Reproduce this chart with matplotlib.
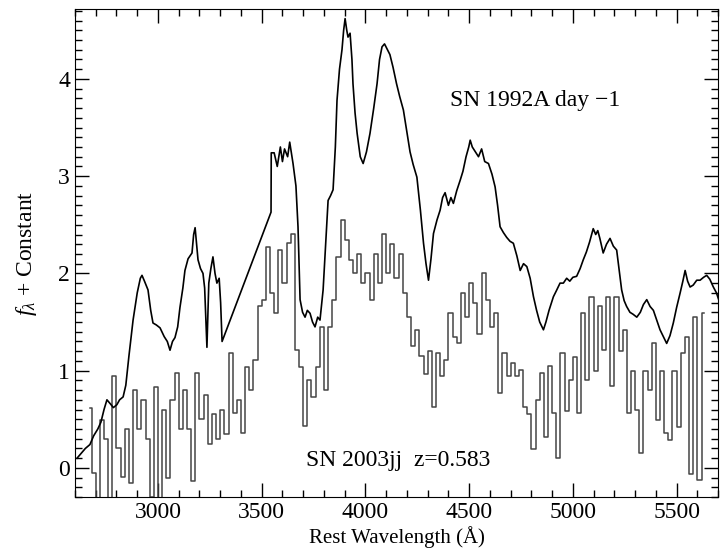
import numpy as np
import matplotlib
matplotlib.use("Agg")
import matplotlib.pyplot as plt
from matplotlib.ticker import MultipleLocator

plt.rcParams['font.family'] = ['Liberation Serif', 'DejaVu Serif']
plt.rcParams['mathtext.fontset'] = 'custom'
plt.rcParams['mathtext.rm'] = 'Liberation Serif'
plt.rcParams['mathtext.it'] = 'Liberation Serif:italic'

# SN 1992A day -1 (template spectrum)
wave_92a = [2610, 2630, 2650, 2672, 2690, 2710, 2725, 2740, 2754, 2770, 2785, 2802,
            2815, 2832, 2845, 2860, 2880, 2900, 2915, 2923, 2935, 2952, 2965, 2976,
            2992, 3010, 3030, 3045, 3058, 3070, 3082, 3095, 3106, 3120, 3130, 3145,
            3164, 3172, 3179, 3186, 3193, 3205, 3217, 3225, 3236, 3245, 3255, 3265,
            3275, 3284, 3295, 3302, 3309,
            3545, 3546, 3560, 3575, 3590, 3600, 3610, 3625, 3635, 3651, 3665, 3675,
            3685, 3697, 3709, 3720, 3733, 3745, 3757, 3770, 3781, 3796, 3808, 3820,
            3832, 3844, 3855, 3863, 3875, 3887, 3895, 3902, 3910, 3916, 3926, 3935,
            3940, 3950, 3960, 3975, 3989, 4005, 4022, 4040, 4056, 4068, 4080, 4092,
            4104, 4118, 4133, 4150, 4165, 4183, 4200, 4215, 4230, 4248, 4265, 4280,
            4292, 4304, 4316, 4328, 4345, 4360, 4372, 4384, 4400, 4412, 4424, 4440,
            4457, 4470, 4485, 4498, 4505, 4515, 4530, 4545, 4560, 4575, 4593, 4610,
            4625, 4637, 4649, 4665, 4681, 4697, 4713, 4730, 4746, 4762, 4778, 4794,
            4810, 4825, 4840, 4858, 4870, 4885, 4906, 4920, 4938, 4954, 4970, 4985,
            5000, 5018, 5035, 5050, 5065, 5080, 5098, 5110, 5120, 5130, 5146, 5162,
            5179, 5195, 5211, 5222, 5235, 5247, 5259, 5275, 5290, 5308, 5325, 5340,
            5356, 5372, 5388, 5404, 5420, 5436, 5452, 5468, 5484, 5500, 5517, 5530,
            5541, 5553, 5565, 5580, 5597, 5613, 5630, 5645, 5660, 5677, 5692, 5709]
flux_92a = [0.10, 0.15, 0.20, 0.24, 0.33, 0.40, 0.47, 0.60, 0.70, 0.66, 0.62, 0.65,
            0.70, 0.73, 0.85, 1.15, 1.52, 1.80, 1.95, 1.98, 1.92, 1.83, 1.62, 1.49,
            1.47, 1.44, 1.35, 1.30, 1.21, 1.30, 1.34, 1.45, 1.65, 1.85, 2.03, 2.15,
            2.21, 2.40, 2.47, 2.30, 2.14, 2.05, 2.00, 1.85, 1.24, 1.90, 2.05, 2.17,
            2.00, 1.90, 1.95, 1.70, 1.30,
            2.63, 3.24, 3.24, 3.10, 3.30, 3.15, 3.28, 3.20, 3.35, 3.13, 2.90, 2.48,
            1.73, 1.60, 1.55, 1.62, 1.59, 1.50, 1.45, 1.55, 1.52, 1.83, 2.30, 2.75,
            2.80, 2.86, 3.30, 3.78, 4.10, 4.30, 4.50, 4.62, 4.50, 4.43, 4.47, 4.20,
            3.95, 3.65, 3.44, 3.20, 3.13, 3.25, 3.44, 3.70, 3.95, 4.20, 4.33, 4.36,
            4.31, 4.25, 4.12, 3.95, 3.82, 3.68, 3.45, 3.25, 3.12, 2.99, 2.65, 2.31,
            2.10, 1.93, 2.15, 2.41, 2.55, 2.65, 2.78, 2.83, 2.70, 2.78, 2.72, 2.85,
            2.96, 3.05, 3.20, 3.30, 3.37, 3.30, 3.25, 3.20, 3.28, 3.15, 3.13, 3.02,
            2.89, 2.70, 2.48, 2.42, 2.37, 2.33, 2.31, 2.18, 2.03, 2.10, 2.07, 1.95,
            1.76, 1.62, 1.50, 1.42, 1.50, 1.62, 1.76, 1.82, 1.90, 1.90, 1.95, 1.92,
            1.96, 1.97, 2.05, 2.14, 2.22, 2.32, 2.46, 2.40, 2.44, 2.36, 2.21, 2.30,
            2.36, 2.28, 2.24, 2.05, 1.83, 1.72, 1.66, 1.60, 1.58, 1.55, 1.60, 1.68,
            1.73, 1.66, 1.62, 1.52, 1.42, 1.35, 1.28, 1.36, 1.49, 1.65, 1.80, 1.92,
            2.03, 1.92, 1.86, 1.88, 1.93, 1.93, 1.96, 1.98, 1.94, 1.86, 1.80, 1.69]

# SN 2003jj z=0.583, binned rest-frame spectrum (20 A bins)
wave_03jj = np.arange(2670, 5650, 20)
flux_03jj = [0.62, -0.05, -0.40, 0.49, 0.30, -0.40, 0.94, 0.20, -0.09, 0.40,
             -0.16, 0.80, 0.40, 0.70, 0.30, -0.30, 0.83, -0.40, 0.60, -0.10,
             0.70, 0.98, 0.40, 0.80, 0.40, -0.13, 0.98, 0.50, 0.75, 0.25,
             0.55, 0.30, 0.60, 0.35, 1.18, 0.56, 0.70, 0.36, 1.04, 0.80,
             1.11, 1.66, 1.73, 2.27, 1.80, 1.59, 2.24, 1.90, 2.31, 2.41,
             1.21, 1.04, 0.43, 0.90, 0.73, 1.04, 1.45, 0.80, 1.45, 1.73,
             2.17, 2.55, 2.34, 2.14, 2.00, 2.20, 1.90, 2.00, 1.73, 2.20,
             1.90, 2.41, 2.00, 2.30, 1.95, 2.20, 1.80, 1.55, 1.25, 1.42,
             1.15, 0.97, 1.20, 0.63, 1.18, 0.95, 1.11, 1.59, 1.35, 1.28,
             1.80, 1.55, 1.90, 1.70, 1.38, 2.00, 1.73, 1.45, 1.59, 0.77,
             1.18, 0.95, 1.08, 0.94, 1.01, 0.63, 0.55, 0.19, 0.70, 0.98,
             0.32, 1.05, 0.56, 0.10, 1.18, 0.59, 0.90, 1.14, 0.56, 1.59,
             0.90, 1.76, 1.00, 1.66, 1.21, 1.76, 0.84, 1.76, 1.20, 1.42,
             0.56, 1.00, 0.60, 0.15, 1.00, 0.80, 1.28, 0.49, 1.00, 0.36,
             0.29, 1.00, 0.42, 1.18, 1.35, -0.06, 1.55, -0.12, 1.59]

fig = plt.figure(figsize=(7.21, 5.56), dpi=100)
ax = fig.add_axes([0.104, 0.106, 0.892, 0.878])

ax.step(wave_03jj, flux_03jj, where='mid', color='#454545', lw=1.1)
ax.plot(wave_92a, flux_92a, color='black', lw=1.2)

ax.set_xlim(2600, 5700)
ax.set_ylim(-0.3, 4.72)
ax.xaxis.set_major_locator(MultipleLocator(500))
ax.xaxis.set_minor_locator(MultipleLocator(100))
ax.yaxis.set_major_locator(MultipleLocator(1))
ax.yaxis.set_minor_locator(MultipleLocator(0.1))
ax.tick_params(which='both', direction='in', top=True, right=True, labelsize=17)
ax.tick_params(which='major', length=10, width=1)
ax.tick_params(which='minor', length=5, width=1)

ax.set_xlabel('Rest Wavelength (Å)', fontsize=15, labelpad=2)
ax.set_ylabel(r'$f_\lambda$ + Constant', fontsize=17, labelpad=14)

ax.text(4410, 3.78, 'SN 1992A day −1', fontsize=17, va='center')
ax.text(3715, 0.08, 'SN 2003jj  z=0.583', fontsize=17, va='center')

fig.savefig('out.png', dpi=100)
